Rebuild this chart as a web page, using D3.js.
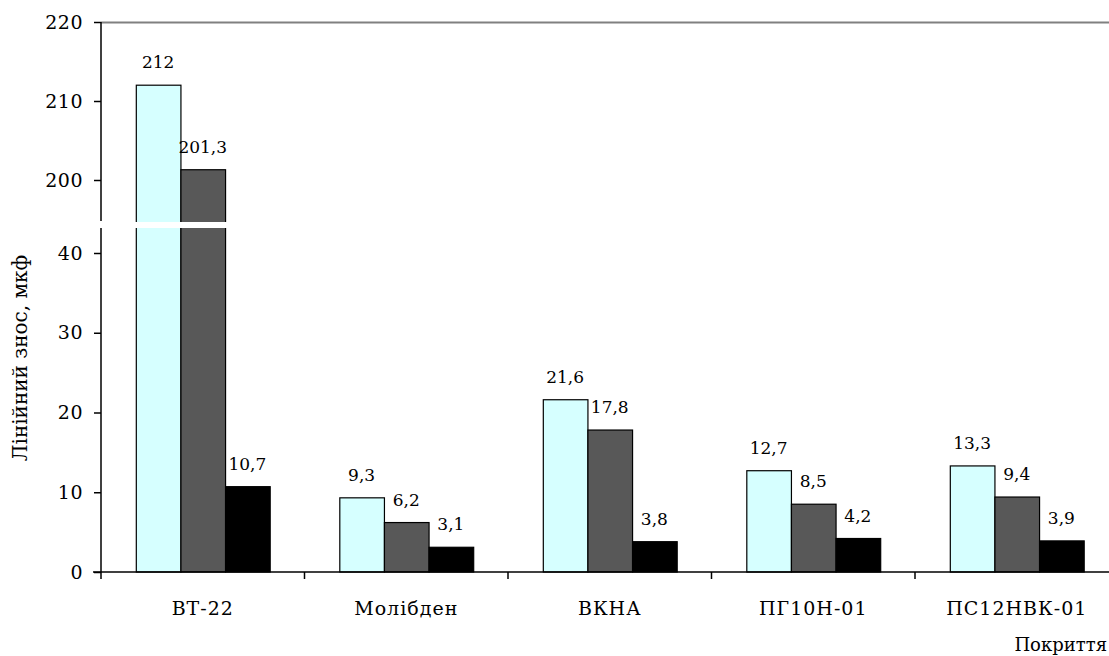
<!DOCTYPE html>
<html>
<head>
<meta charset="utf-8">
<script src="https://d3js.org/d3.v7.min.js"></script>
<style>
  body { margin: 0; background: #fff; }
</style>
</head>
<body>
<svg id="chart" width="1109" height="656"></svg>
<script>
// data
const categories = ["ВТ-22", "Молібден", "ВКНА", "ПГ10Н-01", "ПС12НВК-01"];
const seriesA = [212, 9.3, 21.6, 12.7, 13.3];
const seriesB = [201.3, 6.2, 17.8, 8.5, 9.4];
const seriesC = [10.7, 3.1, 3.8, 4.2, 3.9];
const seriesColors = ["#d6ffff", "#585858", "#000000"];
const lowerTicks = [0, 10, 20, 30, 40];
const upperTicks = [200, 210, 220];

const FONT = "DejaVu Serif";
const svg = d3.select("#chart");
const plotLeft = 101, plotRight = 1109, plotBottom = 572, plotTop = 22;
const breakTop = 221, breakBottom = 228;

// two pieces of the broken y axis
const yLow = d3.scaleLinear().domain([0, 40]).range([plotBottom, 253]);
const yUp = d3.scaleLinear().domain([200, 220]).range([180, plotTop]);
const lowMax = yLow.invert(breakBottom);

const x = d3.scaleBand().domain(categories).range([plotLeft, plotLeft + 5 * 203.5]).padding(0);
const xSub = d3.scaleBand().domain([0, 1, 2]).range([0, x.bandwidth()]).paddingInner(0).paddingOuter(0.78);

const yPos = v => v > lowMax ? yUp(v) : yLow(v);

const rows = [];
[seriesA, seriesB, seriesC].forEach((s, si) => {
  s.forEach((v, ci) => rows.push({cat: categories[ci], s: si, v: v}));
});

// top frame line
svg.append("line")
  .attr("x1", plotLeft).attr("x2", plotRight).attr("y1", plotTop + 0.5).attr("y2", plotTop + 0.5)
  .attr("stroke", "#808080").attr("stroke-width", 2);

// bars
svg.append("g").selectAll("rect")
  .data(rows)
  .join("rect")
  .attr("x", d => x(d.cat) + xSub(d.s) + 0.5)
  .attr("y", d => yPos(d.v))
  .attr("width", xSub.bandwidth())
  .attr("height", d => plotBottom - yPos(d.v))
  .attr("fill", d => seriesColors[d.s])
  .attr("stroke", "#000")
  .attr("stroke-width", 1.2);

// white gap across the break
const tall = rows.filter(d => d.v > lowMax);
svg.append("g").selectAll("rect")
  .data(tall)
  .join("rect")
  .attr("x", d => x(d.cat) + xSub(d.s) - 1)
  .attr("y", breakTop + 1)
  .attr("width", xSub.bandwidth() + 3)
  .attr("height", breakBottom - breakTop - 1)
  .attr("fill", "#fff");

// value labels
const fmt = v => String(v).replace(".", ",");
svg.append("g").selectAll("text")
  .data(rows)
  .join("text")
  .attr("x", d => x(d.cat) + xSub(d.s) + xSub.bandwidth() / 2)
  .attr("y", d => yPos(d.v) - 17)
  .attr("text-anchor", "middle")
  .style("font-family", FONT)
  .attr("font-size", 17)
  .text(d => fmt(d.v));

// y axes
const axLow = svg.append("g").attr("transform", `translate(${plotLeft},0)`)
  .call(d3.axisLeft(yLow).tickValues(lowerTicks).tickSize(7).tickSizeOuter(0).tickPadding(11).tickFormat(d3.format("d")));
axLow.select(".domain").remove();
const axUp = svg.append("g").attr("transform", `translate(${plotLeft},0)`)
  .call(d3.axisLeft(yUp).tickValues(upperTicks).tickSize(7).tickSizeOuter(0).tickPadding(11).tickFormat(d3.format("d")));
axUp.select(".domain").remove();
[axLow, axUp].forEach(a => {
  a.attr("font-size", 19);
  a.selectAll("text").style("font-family", FONT).attr("fill", "#000").attr("letter-spacing", 0.5);
  a.selectAll("line").attr("stroke", "#000").attr("stroke-width", 1.5);
});
svg.append("line").attr("x1", plotLeft).attr("x2", plotLeft).attr("y1", plotTop).attr("y2", breakTop)
  .attr("stroke", "#000").attr("stroke-width", 1.5);
svg.append("line").attr("x1", plotLeft).attr("x2", plotLeft).attr("y1", breakBottom).attr("y2", plotBottom)
  .attr("stroke", "#000").attr("stroke-width", 1.5);

// x axis
svg.append("line").attr("x1", plotLeft - 8).attr("x2", plotRight).attr("y1", plotBottom).attr("y2", plotBottom)
  .attr("stroke", "#000").attr("stroke-width", 1.5);
svg.append("g").selectAll("line")
  .data(d3.range(categories.length + 1))
  .join("line")
  .attr("x1", i => plotLeft + i * x.step()).attr("x2", i => plotLeft + i * x.step())
  .attr("y1", plotBottom).attr("y2", plotBottom + 7)
  .attr("stroke", "#000").attr("stroke-width", 1.5);
svg.append("g").selectAll("text")
  .data(categories)
  .join("text")
  .attr("x", d => x(d) + x.bandwidth() / 2)
  .attr("y", 615)
  .attr("text-anchor", "middle")
  .style("font-family", FONT)
  .attr("font-size", 19)
  .attr("letter-spacing", 1)
  .text(d => d);

// axis titles
svg.append("text")
  .attr("transform", "translate(27,358) rotate(-90)")
  .attr("text-anchor", "middle")
  .style("font-family", FONT)
  .attr("font-size", 20)
  .text("Лінійний знос, мкф");
svg.append("text")
  .attr("x", 1107).attr("y", 651)
  .attr("text-anchor", "end")
  .style("font-family", FONT)
  .attr("font-size", 18)
  .text("Покриття");
</script>
</body>
</html>
